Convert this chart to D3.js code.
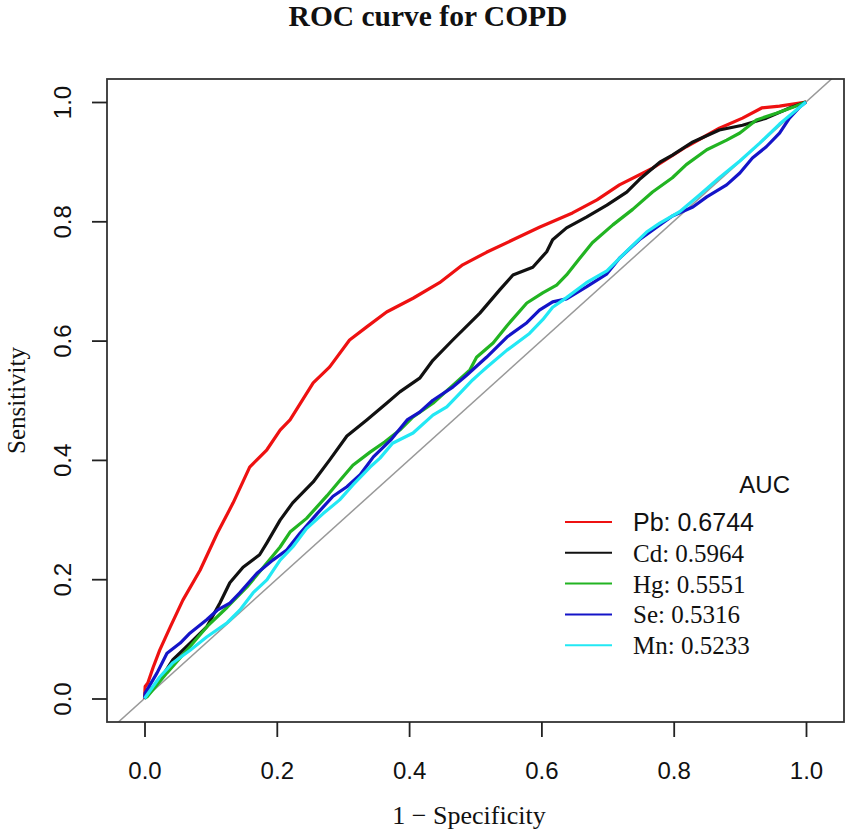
<!DOCTYPE html>
<html>
<head>
<meta charset="utf-8">
<script src="https://cdn.jsdelivr.net/npm/d3@7"></script>
<style>
  html, body { margin: 0; padding: 0; background: #fff; }
  svg { display: block; }
</style>
</head>
<body>
<div id="chart"></div>
<script>
// ROC curve points, [1 - specificity, sensitivity]
const pb = [
  [0, 0], [0.001, 0.02], [0.005, 0.026], [0.013, 0.052], [0.023, 0.081], [0.039, 0.12],
  [0.058, 0.165], [0.084, 0.215], [0.11, 0.277], [0.134, 0.328], [0.159, 0.388],
  [0.185, 0.417], [0.205, 0.45], [0.22, 0.467], [0.255, 0.529], [0.28, 0.556],
  [0.31, 0.601], [0.336, 0.623], [0.366, 0.648], [0.406, 0.671], [0.446, 0.697],
  [0.481, 0.727], [0.517, 0.748], [0.557, 0.769], [0.597, 0.79], [0.647, 0.814],
  [0.684, 0.836], [0.718, 0.861], [0.768, 0.889], [0.819, 0.925], [0.869, 0.956],
  [0.904, 0.973], [0.933, 0.99], [0.96, 0.993], [1, 1]
];
const cd = [
  [0, 0], [0.004, 0.009], [0.023, 0.031], [0.043, 0.065], [0.069, 0.093], [0.094, 0.12],
  [0.114, 0.16], [0.129, 0.194], [0.149, 0.22], [0.174, 0.241], [0.185, 0.261],
  [0.205, 0.299], [0.224, 0.328], [0.255, 0.363], [0.28, 0.4], [0.306, 0.44],
  [0.336, 0.467], [0.366, 0.495], [0.386, 0.514], [0.416, 0.537], [0.436, 0.567],
  [0.466, 0.601], [0.507, 0.646], [0.537, 0.685], [0.557, 0.71], [0.587, 0.723],
  [0.608, 0.749], [0.617, 0.769], [0.638, 0.789], [0.668, 0.807], [0.699, 0.827],
  [0.729, 0.849], [0.748, 0.87], [0.779, 0.899], [0.798, 0.911], [0.829, 0.933],
  [0.869, 0.953], [0.904, 0.961], [0.94, 0.973], [0.975, 0.99], [1, 1]
];
const hg = [
  [0, 0], [0.004, 0.003], [0.034, 0.043], [0.064, 0.081], [0.094, 0.12], [0.125, 0.153],
  [0.155, 0.187], [0.185, 0.227], [0.205, 0.254], [0.22, 0.279], [0.245, 0.302],
  [0.276, 0.34], [0.295, 0.365], [0.315, 0.391], [0.341, 0.413], [0.363, 0.43],
  [0.386, 0.45], [0.406, 0.472], [0.436, 0.495], [0.466, 0.525], [0.492, 0.551],
  [0.502, 0.572], [0.527, 0.596], [0.548, 0.625], [0.578, 0.663], [0.602, 0.68],
  [0.623, 0.693], [0.638, 0.71], [0.658, 0.738], [0.677, 0.764], [0.708, 0.794],
  [0.738, 0.82], [0.768, 0.849], [0.798, 0.873], [0.819, 0.895], [0.85, 0.92],
  [0.88, 0.936], [0.9, 0.948], [0.925, 0.97], [0.955, 0.981], [0.98, 0.991], [1, 1]
];
const se = [
  [0, 0], [0.001, 0.009], [0.019, 0.043], [0.034, 0.076], [0.054, 0.093], [0.069, 0.11],
  [0.094, 0.132], [0.11, 0.148], [0.129, 0.16], [0.144, 0.177], [0.17, 0.21],
  [0.194, 0.232], [0.215, 0.249], [0.235, 0.277], [0.261, 0.31], [0.285, 0.339],
  [0.306, 0.355], [0.326, 0.375], [0.346, 0.405], [0.372, 0.433], [0.397, 0.467],
  [0.416, 0.48], [0.436, 0.5], [0.466, 0.522], [0.487, 0.542], [0.504, 0.559],
  [0.517, 0.572], [0.548, 0.606], [0.578, 0.63], [0.597, 0.651], [0.617, 0.665],
  [0.638, 0.67], [0.668, 0.69], [0.699, 0.712], [0.718, 0.738], [0.748, 0.769],
  [0.768, 0.785], [0.798, 0.809], [0.829, 0.824], [0.85, 0.841], [0.88, 0.861],
  [0.9, 0.881], [0.919, 0.906], [0.94, 0.925], [0.96, 0.948], [0.975, 0.973],
  [0.99, 0.991], [1, 1]
];
const mn = [
  [0, 0], [0.023, 0.036], [0.043, 0.06], [0.069, 0.081], [0.094, 0.103], [0.125, 0.127],
  [0.144, 0.148], [0.164, 0.177], [0.185, 0.199], [0.205, 0.232], [0.224, 0.254],
  [0.245, 0.285], [0.27, 0.31], [0.295, 0.333], [0.315, 0.358], [0.341, 0.388],
  [0.356, 0.403], [0.375, 0.428], [0.406, 0.445], [0.436, 0.475], [0.457, 0.489],
  [0.477, 0.512], [0.496, 0.534], [0.507, 0.545], [0.517, 0.555], [0.548, 0.584],
  [0.582, 0.612], [0.602, 0.635], [0.617, 0.656], [0.638, 0.672], [0.668, 0.697],
  [0.699, 0.717], [0.729, 0.75], [0.759, 0.782], [0.779, 0.797], [0.809, 0.816],
  [0.839, 0.844], [0.869, 0.873], [0.9, 0.901], [0.93, 0.931], [0.96, 0.963],
  [0.985, 0.986], [1, 1]
];

const seriesNames = ['Pb', 'Cd', 'Hg', 'Se', 'Mn'];
const seriesData = [pb, cd, hg, se, mn];
const aucValues = ['0.6744', '0.5964', '0.5551', '0.5316', '0.5233'];
const seriesColors = ['#ee1111', '#111111', '#22b422', '#1414c8', '#22e8f4'];
const tickValues = [0, 0.2, 0.4, 0.6, 0.8, 1.0];

const width = 851;
const height = 836;
const box = { left: 107, right: 844, top: 79, bottom: 722 };

const sansFont = '"Liberation Sans", Arial, sans-serif';
const serifFont = '"Liberation Serif", "Times New Roman", serif';

// Scales (data 0..1 maps onto the tick positions; the box is a bit wider)
const x = d3.scaleLinear().domain([0, 1]).range([144.5, 806]);
const y = d3.scaleLinear().domain([0, 1]).range([698.5, 102]);

const svg = d3.select('#chart').append('svg')
  .attr('width', width)
  .attr('height', height)
  .attr('viewBox', [0, 0, width, height]);

svg.append('defs').append('clipPath')
  .attr('id', 'plot-clip')
  .append('rect')
  .attr('x', box.left)
  .attr('y', box.top)
  .attr('width', box.right - box.left)
  .attr('height', box.bottom - box.top);

const plot = svg.append('g').attr('clip-path', 'url(#plot-clip)');

// Reference diagonal
plot.append('line')
  .attr('x1', x(-0.2)).attr('y1', y(-0.2))
  .attr('x2', x(1.2)).attr('y2', y(1.2))
  .attr('stroke', '#999')
  .attr('stroke-width', 1.5);

const line = d3.line()
  .x(d => x(d[0]))
  .y(d => y(d[1]));

seriesData.forEach((data, i) => {
  plot.append('path')
    .datum(data)
    .attr('d', line)
    .attr('fill', 'none')
    .attr('stroke', seriesColors[i])
    .attr('stroke-width', 3.2)
    .attr('stroke-linejoin', 'round');
});

// Box
svg.append('rect')
  .attr('x', box.left)
  .attr('y', box.top)
  .attr('width', box.right - box.left)
  .attr('height', box.bottom - box.top)
  .attr('fill', 'none')
  .attr('stroke', '#333')
  .attr('stroke-width', 1.8);

// X axis
svg.append('g')
  .attr('transform', `translate(0, ${box.bottom})`)
  .call(d3.axisBottom(x).tickValues(tickValues).tickFormat(d3.format('.1f'))
    .tickSize(15).tickPadding(25))
  .call(g => g.select('.domain').remove())
  .call(g => g.selectAll('line').attr('stroke', '#222').attr('stroke-width', 1.8))
  .call(g => g.selectAll('text')
    .attr('font-family', sansFont)
    .attr('font-size', '24px')
    .attr('fill', '#111'));

// Y axis, labels rotated as in base R
svg.append('g')
  .attr('transform', `translate(${box.left}, 0)`)
  .call(d3.axisLeft(y).tickValues(tickValues).tickFormat(d3.format('.1f')).tickSize(15))
  .call(g => g.select('.domain').remove())
  .call(g => g.selectAll('line').attr('stroke', '#222').attr('stroke-width', 1.8))
  .call(g => g.selectAll('text')
    .attr('x', 0)
    .attr('dy', 0)
    .attr('transform', 'translate(-36, 0) rotate(-90)')
    .attr('text-anchor', 'middle')
    .attr('font-family', sansFont)
    .attr('font-size', '24px')
    .attr('fill', '#111'));

// Titles
svg.append('text')
  .attr('x', 428)
  .attr('y', 26)
  .attr('text-anchor', 'middle')
  .attr('font-family', serifFont)
  .attr('font-weight', 'bold')
  .attr('font-size', '29.5px')
  .attr('fill', '#111')
  .text('ROC curve for COPD');

svg.append('text')
  .attr('x', 469)
  .attr('y', 824)
  .attr('text-anchor', 'middle')
  .attr('font-family', serifFont)
  .attr('font-size', '26px')
  .attr('fill', '#111')
  .text('1 \u2212 Specificity');

svg.append('text')
  .attr('transform', `translate(25, ${(box.top + box.bottom) / 2}) rotate(-90)`)
  .attr('text-anchor', 'middle')
  .attr('font-family', serifFont)
  .attr('font-size', '25px')
  .attr('fill', '#111')
  .text('Sensitivity');

// Legend
const legend = svg.append('g').attr('transform', 'translate(565, 522)');
const rowGap = 30.8;

legend.append('text')
  .attr('x', 225)
  .attr('y', -29)
  .attr('text-anchor', 'end')
  .attr('font-family', sansFont)
  .attr('font-size', '24px')
  .attr('fill', '#111')
  .text('AUC');

seriesNames.forEach((name, i) => {
  const row = legend.append('g').attr('transform', `translate(0, ${i * rowGap})`);
  row.append('line')
    .attr('x1', 0).attr('x2', 47)
    .attr('stroke', seriesColors[i])
    .attr('stroke-width', 2);
  row.append('text')
    .attr('x', 68)
    .attr('y', 9)
    .attr('font-family', i === 0 ? sansFont : serifFont)
    .attr('font-size', '25px')
    .attr('fill', '#111')
    .text(`${name}: ${aucValues[i]}`);
});
</script>
</body>
</html>
